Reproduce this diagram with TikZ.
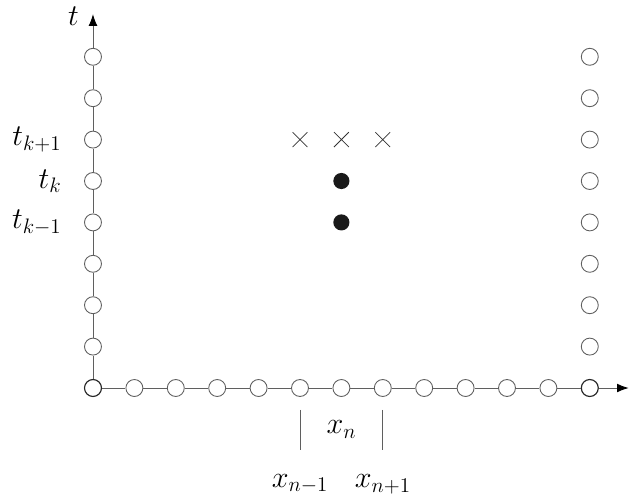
\documentclass[tikz,border=0pt]{standalone}
\usepackage{tikz}
\usetikzlibrary{arrows.meta, positioning, shapes.misc}
\usepackage{amsmath,amssymb}
\definecolor{gridline}{RGB}{95,95,95}

\begin{document}
\begin{tikzpicture}[
    gpt/.style={circle,draw=gridline,fill=white,semithick,
      minimum size=0.41cm,inner sep=0pt},
    gpt0/.style={gpt,draw=black!85,thick},
    known/.style={circle,fill=black!90,minimum size=0.39cm,inner sep=0pt},
    unknown/.style={cross out,draw=black!80,semithin,
      minimum size=0.34cm,inner sep=0pt},
    semithin/.style={line width=0.5pt},
    axis/.style={-{Latex[length=8pt,width=6pt,color=black]},gridline,semithick},
    lbl/.style={font=\fontsize{20}{24}\selectfont,inner sep=1pt},
    tick/.style={gridline,semithick}
  ]
  \useasboundingbox (-2.246,-2.754) rectangle (12.947,9.372);

  % origin
  \node[gpt0] (o) at (0,0) {};

  % t axis
  \foreach \j in {1,...,8} {
    \node[gpt] (v\j) at (0,\j) {}; }
  \draw[gridline,semithick] (o) -- (v1);
  \foreach \a/\b in {v1/v2, v2/v3, v3/v4, v4/v5, v5/v6, v6/v7, v7/v8} {
    \draw[gridline,semithick] (\a) -- (\b); }
  \coordinate (ttop) at (0,9.03);
  \draw[axis] (v8) -- (ttop);
  \node[lbl,anchor=east] (tl) at (-0.3,8.97) {$t$};

  % x axis
  \foreach \i in {1,...,11} {
    \node[gpt] (h\i) at (\i,0) {}; }
  \node[gpt0] (h12) at (12,0) {};
  \draw[gridline,semithick] (o) -- (h1);
  \foreach \a/\b in {h1/h2, h2/h3, h3/h4, h4/h5, h5/h6, h6/h7,
                     h7/h8, h8/h9, h9/h10, h10/h11, h11/h12} {
    \draw[gridline,semithick] (\a) -- (\b); }
  \coordinate (xend) at (12.94,0);
  \draw[axis] (h12) -- (xend);

  % right boundary
  \foreach \j in {1,...,8} {
    \node[gpt] (r\j) at (12,\j) {}; }

  % time levels
  \node[lbl,anchor=east] (tkp) at (-0.72,6) {$t_{k+1}$};
  \node[lbl,anchor=east] (tk)  at (-0.72,5) {$t_{k}$};
  \node[lbl,anchor=east] (tkm) at (-0.72,4) {$t_{k-1}$};

  % stencil
  \node[unknown] (u1) at (5,6) {};
  \node[unknown] (u2) at (6,6) {};
  \node[unknown] (u3) at (7,6) {};
  \node[known] (k1) at (6,5) {};
  \node[known] (k2) at (6,4) {};

  % cell
  \coordinate (bl1) at (5,-0.53);
  \coordinate (bl2) at (5,-1.5);
  \coordinate (br1) at (7,-0.53);
  \coordinate (br2) at (7,-1.5);
  \draw[tick] (bl1) -- (bl2);
  \draw[tick] (br1) -- (br2);
  \node[lbl] (xn) at (6,-1.0) {$x_n$};
  \node[lbl] (xnm) at (5,-2.32) {$x_{n-1}$};
  \node[lbl] (xnp) at (7,-2.32) {$x_{n+1}$};
\end{tikzpicture}
\end{document}
